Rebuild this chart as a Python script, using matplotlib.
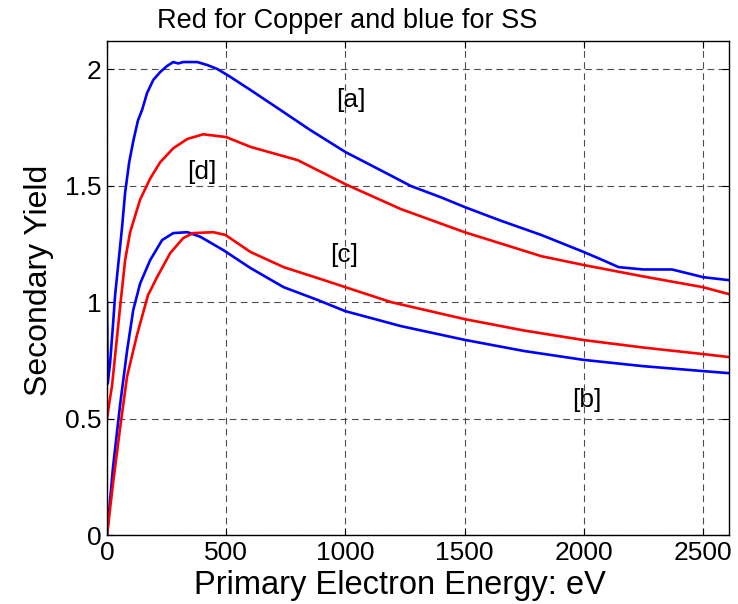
import matplotlib
matplotlib.use('agg')
import matplotlib.pyplot as plt

# SS, upper curve [a]
blue_a_x = [0, 3, 13, 25, 34, 46, 63, 76, 93, 110, 130, 147, 168, 194, 223, 252,
            278, 299, 320, 379, 421, 463, 518, 602, 728, 850, 1000, 1140, 1275,
            1400, 1500, 1650, 1822, 2000, 2080, 2146, 2250, 2370, 2450, 2500, 2610]
blue_a_y = [1.00, 0.65, 0.74, 0.90, 1.03, 1.15, 1.32, 1.47, 1.60, 1.69, 1.78,
            1.824, 1.897, 1.953, 1.987, 2.013, 2.03, 2.024, 2.03, 2.03, 2.017, 2.0,
            1.966, 1.91, 1.824, 1.74, 1.644, 1.57, 1.498, 1.45, 1.408, 1.35, 1.288,
            1.215, 1.18, 1.15, 1.14, 1.14, 1.12, 1.107, 1.094]

# SS, lower curve [b]
blue_b_x = [0, 25, 55, 84, 110, 139, 181, 231, 278, 337, 392, 488, 602, 741, 884,
            1000, 1233, 1500, 1750, 2000, 2250, 2500, 2610]
blue_b_y = [0, 0.29, 0.56, 0.79, 0.966, 1.08, 1.18, 1.266, 1.296, 1.30, 1.28, 1.223,
            1.146, 1.064, 1.009, 0.961, 0.897, 0.838, 0.79, 0.752, 0.725, 0.704,
            0.695]

# Copper, lower curve [c]
red_c_x = [0, 25, 55, 84, 126, 172, 210, 265, 320, 362, 446, 497, 602, 741, 884,
           1000, 1191, 1500, 1750, 2000, 2250, 2500, 2610]
red_c_y = [0, 0.22, 0.46, 0.68, 0.86, 1.03, 1.107, 1.21, 1.275, 1.296, 1.30, 1.288,
           1.215, 1.15, 1.103, 1.064, 1.0, 0.927, 0.878, 0.837, 0.805, 0.777, 0.764]

# Copper, upper curve [d]
red_d_x = [0, 13, 21, 42, 55, 76, 97, 139, 181, 223, 278, 337, 404, 500, 602, 800,
           1000, 1233, 1500, 1822, 2000, 2250, 2500, 2610]
red_d_y = [0.50, 0.59, 0.64, 0.85, 0.98, 1.18, 1.30, 1.44, 1.53, 1.60, 1.66, 1.70,
           1.72, 1.708, 1.666, 1.609, 1.506, 1.399, 1.30, 1.197, 1.159, 1.11, 1.064,
           1.034]

curve_labels = ['[a]', '[d]', '[c]', '[b]']
label_x = [1023, 396, 993, 2012]
label_y = [1.867, 1.558, 1.20, 0.58]

x_ticks = [0, 500, 1000, 1500, 2000, 2500]
y_ticks = [0, 0.5, 1, 1.5, 2]
y_tick_labels = ['0', '0.5', '1', '1.5', '2']

plt.rcParams['font.family'] = ['Liberation Sans', 'DejaVu Sans']

fig = plt.figure(figsize=(7.38, 6.04), dpi=100)
ax = fig.add_axes([0.145, 0.114, 0.843, 0.818])

ax.plot(blue_a_x, blue_a_y, color='#0000ff', lw=1.9)
ax.plot(blue_b_x, blue_b_y, color='#0000ff', lw=1.9)
ax.plot(red_c_x, red_c_y, color='#ff0000', lw=1.9)
ax.plot(red_d_x, red_d_y, color='#ff0000', lw=1.9)

for lab, lx, ly in zip(curve_labels, label_x, label_y):
    ax.text(lx, ly, lab, fontsize=19, ha='center', va='center')

ax.set_xlim(0, 2610)
ax.set_ylim(0, 2.12)
ax.set_xticks(x_ticks)
ax.set_yticks(y_ticks)
ax.set_yticklabels(y_tick_labels)
ax.tick_params(direction='in', top=True, right=True, labelsize=19, length=5,
               pad=4)
ax.grid(True, color='0.3', linestyle=(0, (6, 4)), linewidth=0.8)
for s in ax.spines.values():
    s.set_linewidth(1.0)

ax.set_xlabel('Primary Electron Energy: eV', fontsize=23.5)
ax.xaxis.set_label_coords(0.471, -0.07, transform=ax.transAxes)
ax.xaxis.label.set_va('top')
ax.set_ylabel('Secondary Yield', fontsize=23)
ax.yaxis.set_label_coords(-0.085, 0.516)
fig.text(0.470, 0.966, 'Red for Copper and blue for SS', fontsize=19.5,
         ha='center', va='center')

fig.savefig('out.png', dpi=100)
